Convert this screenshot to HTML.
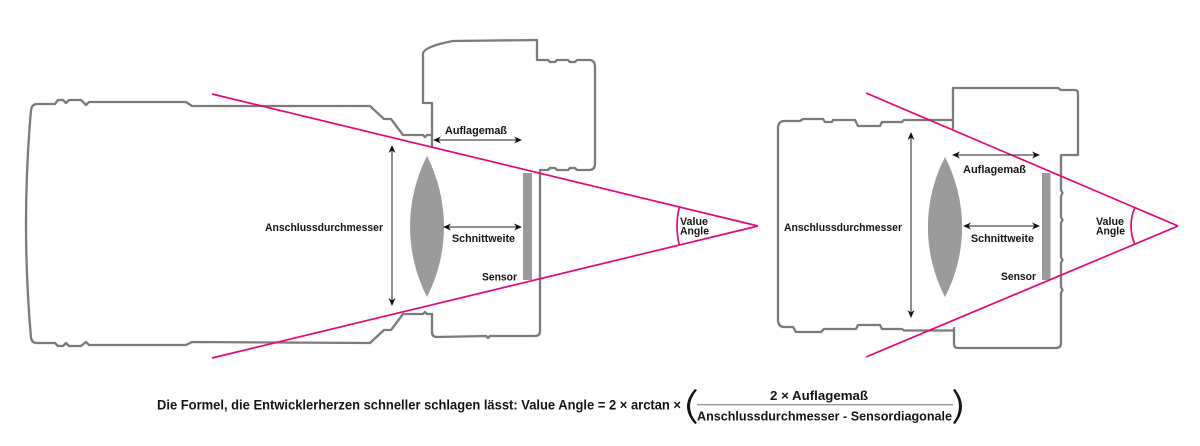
<!DOCTYPE html>
<html>
<head>
<meta charset="utf-8">
<style>
  html, body { margin: 0; padding: 0; background: #ffffff; }
  body { width: 1200px; height: 446px; overflow: hidden; }
  svg { display: block; }
  text { font-family: "Liberation Sans", Arial, sans-serif; font-weight: bold; fill: #141414; }
</style>
</head>
<body>
<svg width="1200" height="446" viewBox="0 0 1200 446" xmlns="http://www.w3.org/2000/svg">
  <rect x="0" y="0" width="1200" height="446" fill="#ffffff"/>

  <!-- ================= LEFT CAMERA ================= -->
  <g fill="none" stroke="#7b7b7b" stroke-width="2.3" stroke-linejoin="round" stroke-linecap="round">
    <!-- lens barrel -->
    <path d="M 432,135 L 427,135 L 425,137 L 423,135 L 403,135 L 391,119 L 384,119 L 370,106 L 192,106 L 186,102 L 89,102 L 86,105 L 81,100 L 69,100 L 66,103 L 63,100 L 58,100 L 55,104 L 37,104 Q 32,104 31,110 Q 21,224 31,338 Q 32,343 37,343 L 55,343 L 58,346 L 63,346 L 66,343 L 69,346 L 81,346 L 86,342 L 89,345 L 186,345 L 192,342 L 370,343 L 384,330 L 391,330 L 403,314 L 423,314 L 425,312 L 427,314 L 432,314"/>
    <!-- body -->
    <path d="M 432,146 L 432,103 L 423,103 L 423,53 Q 426,46 453,41 L 537,40 L 537,60 L 548,60 L 550,62 L 555,62 L 557,60 L 568,60 L 570,62 L 575,62 L 577,60 L 589,60 Q 595,60 595,67 L 595,164 Q 595,170 589,170 L 577,170 L 575,168 L 570,168 L 568,170 L 557,170 L 555,168 L 550,168 L 548,170 L 540,170 L 540,331 Q 540,336 535,336 L 490,336 L 488,338 L 486,336 L 437,337 Q 432,337 432,332 L 432,314"/>
  </g>
  <!-- lens element -->
  <path d="M 427,156 A 155 155 0 0 0 427,297 A 155 155 0 0 0 427,156 Z" fill="#9b9b9b"/>
  <!-- sensor -->
  <rect x="523" y="173" width="9" height="107" fill="#9b9b9b"/>

  <!-- magenta lines left -->
  <g stroke="#e4077e" stroke-width="1.7" fill="none">
    <line x1="212" y1="94" x2="758" y2="226"/>
    <line x1="212" y1="358" x2="758" y2="226"/>
    <path d="M 679.3,207 A 81 81 0 0 0 679.3,245"/>
  </g>

  <!-- arrows left -->
  <g stroke="#222" stroke-width="1" fill="none">
    <line x1="436" y1="140" x2="519" y2="140"/>
    <line x1="446" y1="227" x2="519" y2="227"/>
    <line x1="392" y1="148" x2="392" y2="303"/>
  </g>
  <g fill="#111">
    <path d="M 433,140 L 441,136.5 L 438.5,140 L 441,143.5 Z"/>
    <path d="M 522,140 L 514,136.5 L 516.5,140 L 514,143.5 Z"/>
    <path d="M 443,227 L 451,223.5 L 448.5,227 L 451,230.5 Z"/>
    <path d="M 522,227 L 514,223.5 L 516.5,227 L 514,230.5 Z"/>
    <path d="M 392,145 L 388.5,153 L 392,150.5 L 395.5,153 Z"/>
    <path d="M 392,306 L 388.5,298 L 392,300.5 L 395.5,298 Z"/>
  </g>

  <!-- labels left -->
  <text x="445" y="134" font-size="11" textLength="62" lengthAdjust="spacingAndGlyphs">Auflagemaß</text>
  <text x="452" y="242" font-size="11" textLength="63" lengthAdjust="spacingAndGlyphs">Schnittweite</text>
  <text x="482" y="280.5" font-size="11" textLength="35" lengthAdjust="spacingAndGlyphs">Sensor</text>
  <text x="680" y="225" font-size="11" textLength="28" lengthAdjust="spacingAndGlyphs">Value</text>
  <text x="680" y="234.5" font-size="11" textLength="29" lengthAdjust="spacingAndGlyphs">Angle</text>
  <text x="265" y="231" font-size="11" textLength="118" lengthAdjust="spacingAndGlyphs">Anschlussdurchmesser</text>

  <!-- ================= RIGHT CAMERA ================= -->
  <g fill="none" stroke="#7b7b7b" stroke-width="2.3" stroke-linejoin="round" stroke-linecap="round">
    <!-- lens -->
    <path d="M 953,120 L 904,120 L 902,122 L 882,122 L 880,126 L 858,126 L 855,120 L 833,120 L 832,122 L 825,122 L 823,119 L 803,119 L 800,121 L 784,121 Q 779,121 778,127 L 778,321 Q 779,327 784,327 L 793,327 L 796,332 L 821,332 L 824,329 L 856,329 L 858,325 L 880,325 L 882,329 L 902,329 L 904,330.5 L 954,330.5"/>
    <!-- body -->
    <path d="M 953,128 L 953,88 L 1058,88 L 1061,90 L 1075,90 Q 1078,90 1078,94 L 1078,155 L 1061,155 L 1061,190 L 1062.5,193 L 1061,196 L 1061,217 L 1062.5,220 L 1061,223 L 1061,257 L 1062.5,260 L 1061,263 L 1061,287 L 1062.5,290 L 1061,293 L 1061,343 Q 1061,348 1056,348 L 958,348 Q 954,348 954,344 L 954,328"/>
  </g>
  <path d="M 945,157 A 152 152 0 0 0 945,297 A 152 152 0 0 0 945,157 Z" fill="#9b9b9b"/>
  <rect x="1042" y="173" width="8.5" height="107" fill="#9b9b9b"/>

  <g stroke="#e4077e" stroke-width="1.7" fill="none">
    <line x1="866" y1="93" x2="1178" y2="226"/>
    <line x1="866" y1="357" x2="1178" y2="226"/>
    <path d="M 1134.8,207.6 A 47 47 0 0 0 1134.8,244.4"/>
  </g>

  <g stroke="#222" stroke-width="1" fill="none">
    <line x1="955" y1="155" x2="1037" y2="155"/>
    <line x1="966" y1="226" x2="1037" y2="226"/>
    <line x1="911" y1="135" x2="911" y2="315"/>
  </g>
  <g fill="#111">
    <path d="M 952,155 L 960,151.5 L 957.5,155 L 960,158.5 Z"/>
    <path d="M 1040,155 L 1032,151.5 L 1034.5,155 L 1032,158.5 Z"/>
    <path d="M 963,226 L 971,222.5 L 968.5,226 L 971,229.5 Z"/>
    <path d="M 1040,226 L 1032,222.5 L 1034.5,226 L 1032,229.5 Z"/>
    <path d="M 911,132 L 907.5,140 L 911,137.5 L 914.5,140 Z"/>
    <path d="M 911,318 L 907.5,310 L 911,312.5 L 914.5,310 Z"/>
  </g>

  <text x="963" y="173" font-size="11" textLength="63" lengthAdjust="spacingAndGlyphs">Auflagemaß</text>
  <text x="971" y="242" font-size="11" textLength="63" lengthAdjust="spacingAndGlyphs">Schnittweite</text>
  <text x="1001" y="280" font-size="11" textLength="35" lengthAdjust="spacingAndGlyphs">Sensor</text>
  <text x="1096" y="225" font-size="11" textLength="28" lengthAdjust="spacingAndGlyphs">Value</text>
  <text x="1096" y="234.5" font-size="11" textLength="29" lengthAdjust="spacingAndGlyphs">Angle</text>
  <text x="784" y="231" font-size="11" textLength="118" lengthAdjust="spacingAndGlyphs">Anschlussdurchmesser</text>

  <!-- ================= FORMULA ================= -->
  <text x="157" y="409.5" font-size="13.5" textLength="524" lengthAdjust="spacingAndGlyphs">Die Formel, die Entwicklerherzen schneller schlagen lässt: Value Angle = 2 × arctan ×</text>
  <path d="M 695,389 Q 679,406.5 695,424 L 697,423 Q 683,406.5 697,390 Z" fill="#141414"/>
  <text x="770" y="400" font-size="12.5" textLength="98" lengthAdjust="spacingAndGlyphs">2 × Auflagemaß</text>
  <line x1="697" y1="404.7" x2="953" y2="404.7" stroke="#777" stroke-width="1"/>
  <text x="697" y="420.5" font-size="12.5" textLength="255" lengthAdjust="spacingAndGlyphs">Anschlussdurchmesser - Sensordiagonale</text>
  <path d="M 955,389 Q 969,406.5 955,424 L 953,423 Q 965,406.5 953,390 Z" fill="#141414"/>
</svg>
</body>
</html>
